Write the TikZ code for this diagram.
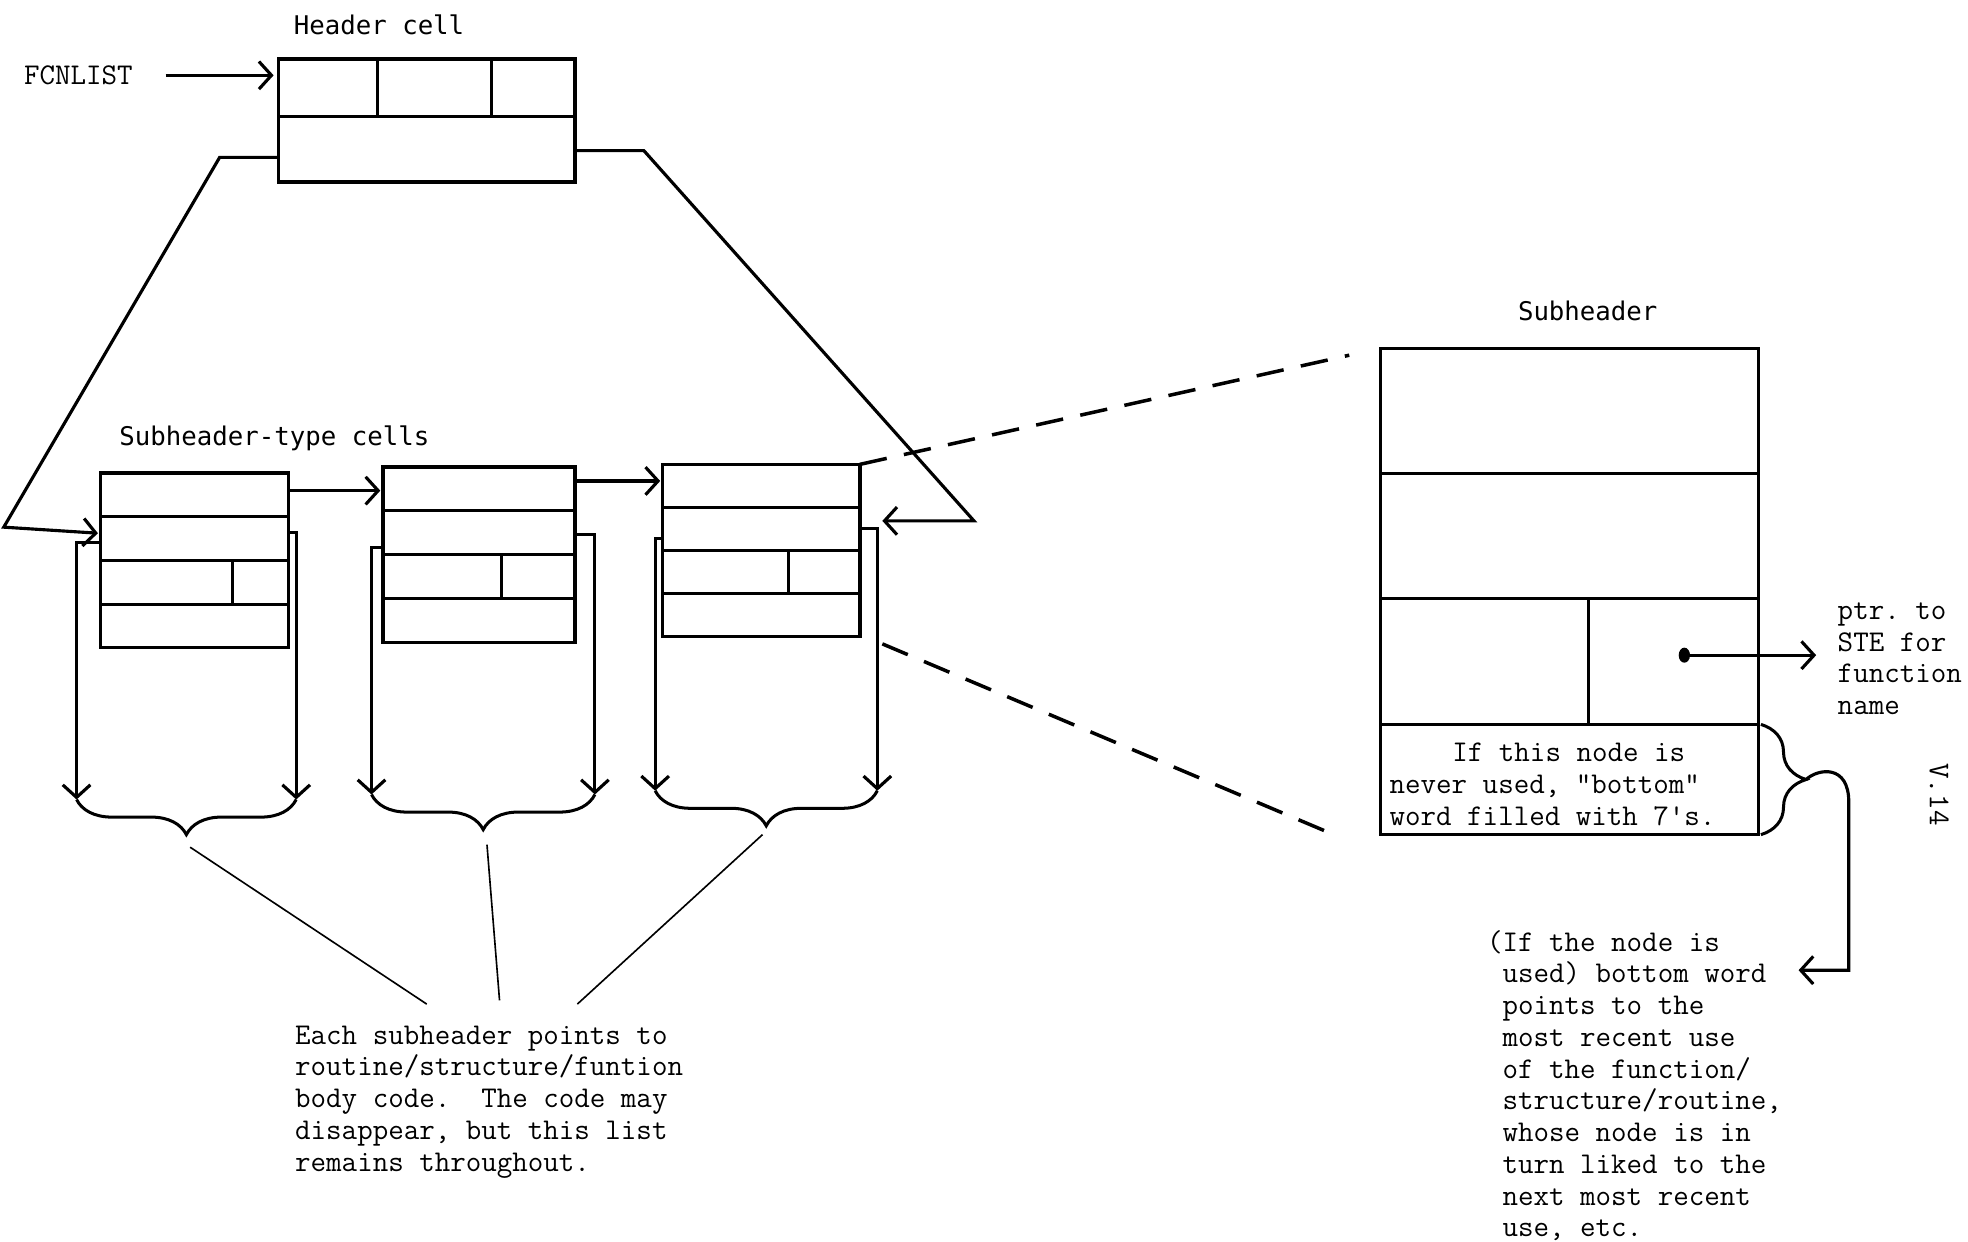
\documentclass[tikz,border=0pt]{standalone}
\usepackage{fontspec}
\newfontfamily\labeler{DejaVu Sans Mono}
\usetikzlibrary{arrows.meta,positioning,calc,decorations.pathreplacing}
\tikzset{
  box/.style={draw=black, line width=2.8pt, inner sep=0pt, outer sep=0pt},
  div/.style={line width=2.4pt},
  arr/.style={-{Straight Barb[length=10pt,width=22pt]}, line width=2.5pt},
  thin/.style={line width=1.3pt},
  dashline/.style={line width=2.8pt, dash pattern=on 22pt off 14pt},
  curly/.style={decorate, decoration={brace, amplitude=#1}, line width=2.4pt},
  typed/.style={font=\ttfamily\fontsize{24}{25.3}\selectfont\frenchspacing, inner sep=0pt, align=left},
  caption/.style={font=\labeler\fontsize{20.5}{25}\selectfont, inner sep=0pt},
}

\begin{document}
\begin{tikzpicture}[x=1pt, y=-1pt]
  \useasboundingbox (0,0) rectangle (1568,989);

  % header cell
  \node[caption] (hdrlbl) at (302,20) {Header cell};
  \node[box, minimum width=236pt, minimum height=98pt] (hdr) at (340,96) {};
  \draw[div] ($(hdr.north west)!0.47!(hdr.south west)$) -- ($(hdr.north east)!0.47!(hdr.south east)$);
  \foreach \f in {0.335,0.72}
    \draw[div] ($(hdr.north west)!\f!(hdr.north east)$) -- ++(0,46);
  \node[typed, anchor=west] (fcn) at (19,60) {FCNLIST};
  \draw[arr, shorten <=26pt, shorten >=4pt] (fcn.east) -- (fcn.east -| hdr.west);

  % subheader-type cells
  \node[caption, anchor=west] (celllbl) at (95,349) {Subheader-type cells};
  \foreach \n/\px/\py/\w/\h/\v in {1/155/446.5/150/139/0.70, 2/381.5/442/153/140/0.62, 3/606.5/438.5/157/137/0.64} {
    \node[box, minimum width=\w pt, minimum height=\h pt] (c\n) at (\px,\py) {};
    \foreach \f in {0.25,0.5,0.75}
      \draw[div] ($(c\n.north west)!\f!(c\n.south west)$) -- ($(c\n.north east)!\f!(c\n.south east)$);
    \draw[div] ($(c\n.north west)+(\v*\w,\h/2)$) -- ++(0,\h/4);
  }
  \draw[arr, shorten >=2pt] ($(c1.north east)!0.1!(c1.south east)$) coordinate (a1) -- (a1 -| c2.west);
  \draw[arr, shorten >=2pt] ($(c2.north east)!0.08!(c2.south east)$) coordinate (a2) -- (a2 -| c3.west);

  % links down to the code, with braces
  \foreach \n/\lx/\ly/\rx/\ry/\by in {1/61/432/236/424/637, 2/296/436/474/426/633, 3/522/429/699/421/630} {
    \coordinate (ls\n) at (\lx,\ly);
    \coordinate (rs\n) at (\rx,\ry);
    \coordinate (lb\n) at (\lx,\by);
    \coordinate (rb\n) at (\rx,\by);
    \draw[arr] (c\n.west |- ls\n) -- (ls\n) -- (lb\n);
    \draw[arr] (c\n.east |- rs\n) -- (rs\n) -- (rb\n);
    \draw[curly=28pt, decoration={mirror}] (lb\n) -- (rb\n);
    \coordinate (tip\n) at ($(lb\n)!0.5!(rb\n)+(0,28)$);
  }

  % the ring from header through the cells
  \draw[arr, shorten >=2pt] ($(hdr.north west)!0.8!(hdr.south west)$) -- ++(-47,0) -- (3,420)
    -- ($(c1.north west)!0.345!(c1.south west)$);
  \draw[arr] ($(hdr.north east)!0.745!(hdr.south east)$) -- ++(55,0) -- (776,415)
    -- ($(c3.east)+(18,-23.5)$);

  \node[typed, anchor=north west] (note) at (235,817) {Each subheader points to\\routine/structure/funtion\\body code.\ \ The code may\\disappear, but this list\\remains throughout.};
  \draw[thin] ($(tip1)+(3,10)$) -- ($(note.north west)+(105,-17)$);
  \draw[thin] ($(tip2)+(3,12)$) -- ($(note.north west)+(163,-20)$);
  \draw[thin] ($(tip3)+(-3,7)$) -- ($(note.north west)+(225,-17)$);

  % subheader blown up
  \node[caption] (sublbl) at (1265,248) {Subheader};
  \node[box, line width=2.5pt, minimum width=301pt, minimum height=387pt] (sub) at (1250.5,471.5) {};
  \foreach \f in {0.256,0.514,0.773}
    \draw[line width=2pt] ($(sub.north west)!\f!(sub.south west)$) -- ($(sub.north east)!\f!(sub.south east)$);
  \draw[div] ($(sub.north west)+(166,199)$) -- ++(0,100);
  \draw[dashline] (c3.north east) -- ($(sub.north west)+(-25,5)$);
  \draw[dashline] ($(c3.south east)+(18,6)$) -- ($(sub.south west)+(-42,-2)$);

  \coordinate (ptr) at ($(sub.north west)+(242,244)$);
  \fill (ptr) ellipse (4.5pt and 6pt);
  \node[typed, anchor=north west] (ptrlbl) at (1464,480) {ptr. to\\STE for\\function\\name};
  \draw[arr, shorten >=17pt] (ptr) -- (ptr -| ptrlbl.west);

  \node[typed, anchor=north west] (never) at (1107,592) {\hspace*{50pt}If this node is\\never used, "bottom"\\word filled with 7's.};

  \draw[curly=36pt] ($(sub.north east)!0.773!(sub.south east)+(2,0)$) -- ($(sub.south east)+(2,0)$);
  \coordinate (rtip) at ($(sub.south east)+(38,-44)$);
  \draw[arr] (rtip) .. controls ($(rtip)+(10,-9)$) and ($(rtip)+(34,-12)$) .. ($(rtip)+(34,18)$)
    -- ++(0,134) -- ++(-40,0);

  \node[typed, anchor=north west] (usedtxt) at (1197,741) {\llap{(}If the node is\\used) bottom word\\points to the\\most recent use\\of the function/\\structure/routine,\\whose node is in\\turn liked to the\\next most recent\\use, etc.};

  \node[typed, rotate=-90] (pg) at (1545,633) {V.14};
\end{tikzpicture}
\end{document}
